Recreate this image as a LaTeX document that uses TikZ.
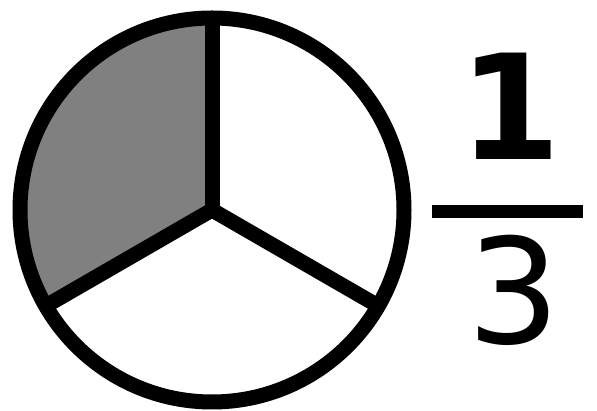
\documentclass[tikz,border=0pt]{standalone}
\usepackage{fontspec}
\setmainfont{DejaVu Sans}
\usepackage{tikz}
\usepackage{xcolor}

\begin{document}
\begin{tikzpicture}[x=1pt,y=1pt,line join=round,
  part/.style={line width=15pt},
  digit/.style={inner sep=0pt,font=\fontsize{146}{146}\selectfont}]
\useasboundingbox (0,0) rectangle (597,411);
\coordinate (O) at (212,201);
% shaded third
\fill[gray] (O) -- ++(90:192) arc (90:210:192) -- cycle;
\draw[part] (O) circle (192);
\draw[part] (O) -- ++(90:192);
\draw[part] (O) -- ++(210:192);
\draw[part] (O) -- ++(330:192);
% fraction
\node[digit] (num) at (510,305) {\bfseries 1};
\node[digit] (den) at (514,121) {3};
\coordinate (barL) at (432,199.5);
\coordinate (barR) at (583,199.5);
\draw[line width=13pt] (barL) -- (barR);
\end{tikzpicture}
\end{document}
